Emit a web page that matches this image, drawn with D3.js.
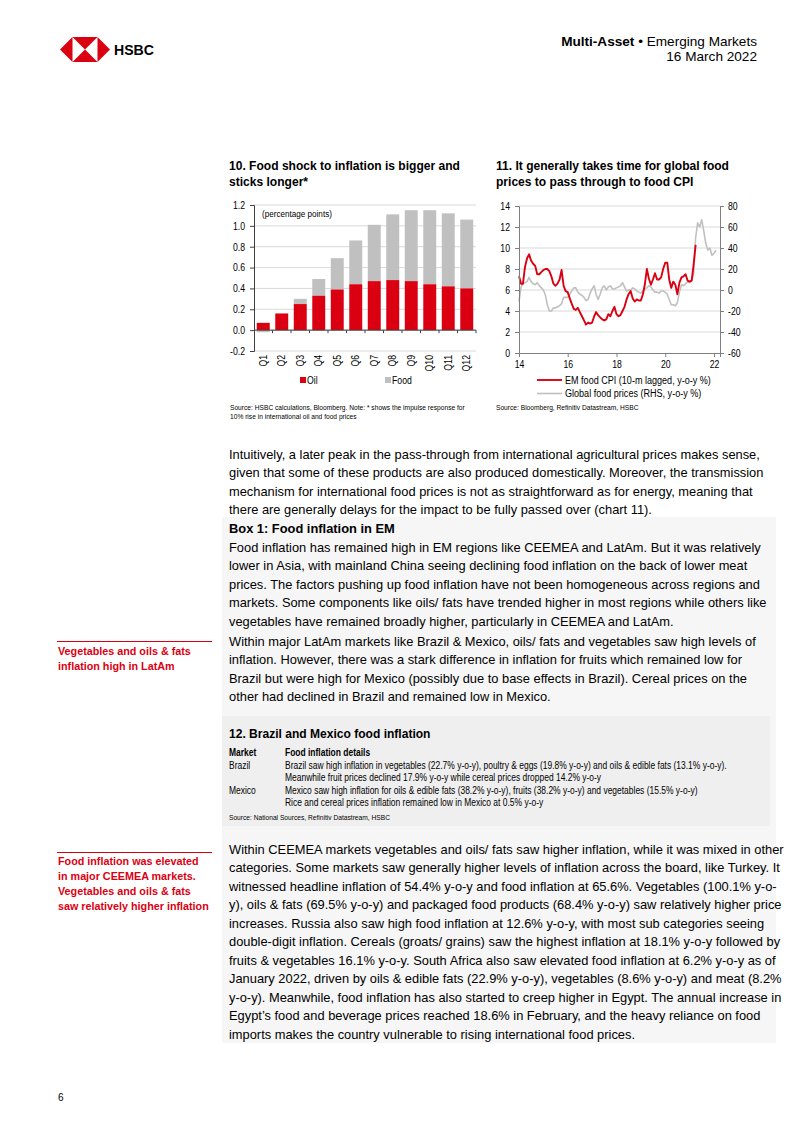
<!DOCTYPE html>
<html><head><meta charset="utf-8">
<script src="https://cdn.jsdelivr.net/npm/d3@7"></script>
<style>
body{margin:0;background:#fff}
svg{display:block}
text{font-family:"Liberation Sans",Arial,Helvetica,sans-serif;fill:#000}
</style>
</head><body>
<svg id="page" width="802" height="1133"></svg>
<script>
// ---------------- DATA ----------------
const quarters = ["Q1","Q2","Q3","Q4","Q5","Q6","Q7","Q8","Q9","Q10","Q11","Q12"];
const oilImpulse  = [0.07,0.16,0.25,0.33,0.39,0.44,0.47,0.48,0.47,0.44,0.42,0.40];
const foodImpulse = [-0.02,0.00,0.05,0.16,0.30,0.42,0.54,0.63,0.68,0.71,0.70,0.66];
const barTicks = [-0.2,0,0.2,0.4,0.6,0.8,1.0,1.2];

// monthly, starting Jan 2014
const seriesStart = new Date(2014,0,1);
const emFoodCpi = [
 7.3,6.6,6.6,8.2,9.0,9.4,8.8,8.5,8.3,7.5,7.5,7.7,
 7.9,8.0,8.0,7.8,7.3,6.6,6.4,6.6,7.0,7.9,6.4,5.9,
 5.8,5.2,4.7,4.2,4.1,4.3,3.9,3.5,3.1,2.7,2.9,2.8,
 2.9,3.5,3.9,3.6,3.4,3.2,3.1,3.2,3.7,3.5,4.0,4.4,
 3.7,3.5,3.6,4.0,4.4,5.1,5.6,5.9,5.2,4.9,5.1,5.0,
 5.0,5.6,6.5,8.0,7.1,6.5,7.0,7.6,7.0,7.0,7.2,8.0,
 8.6,8.6,7.0,6.2,6.8,6.5,5.6,6.7,7.2,7.3,7.5,6.9,
 6.8,6.9,8.4,10.3];
const globalFoodPrices = [
 -11,3,6,7,8,12,8,6,5,7,4,2,
 0,-5,-14,-20,-20,-17,-17,-16,-15,-13,-7,-7,
 -7,-4,-1,2,2,-2,-4,-5,-7,-10,-9,-3,
 1,4,-4,-9,-4,2,4,0,3,4,1,1,
 2,3,4,7,3,-1,0,0,2,1,-1,-2,
 -3,-1,1,2,4,3,0,-2,-2,-3,-1,-1,
 -2,-4,-9,-14,-14,-15,-12,-2,5,4,6,8,
 7,10,15,50,64,60,67,56,44,38,40,33,
 35,38];
const leftTicks = [0,2,4,6,8,10,12,14];
const rightTicks = [-60,-40,-20,0,20,40,60,80];
const yearTicks = [2014,2016,2018,2020,2022];

// ---------------- TEXT ----------------
const para1 = [
 "Intuitively, a later peak in the pass-through from international agricultural prices makes sense,",
 "given that some of these products are also produced domestically. Moreover, the transmission",
 "mechanism for international food prices is not as straightforward as for energy, meaning that",
 "there are generally delays for the impact to be fully passed over (chart 11)."];
const box1 = [
 "Food inflation has remained high in EM regions like CEEMEA and LatAm. But it was relatively",
 "lower in Asia, with mainland China seeing declining food inflation on the back of lower meat",
 "prices. The factors pushing up food inflation have not been homogeneous across regions and",
 "markets. Some components like oils/ fats have trended higher in most regions while others like",
 "vegetables have remained broadly higher, particularly in CEEMEA and LatAm."];
const para2 = [
 "Within major LatAm markets like Brazil & Mexico, oils/ fats and vegetables saw high levels of",
 "inflation. However, there was a stark difference in inflation for fruits which remained low for",
 "Brazil but were high for Mexico (possibly due to base effects in Brazil). Cereal prices on the",
 "other had declined in Brazil and remained low in Mexico."];
const tableRows = [
 ["Brazil","Brazil saw high inflation in vegetables (22.7% y-o-y), poultry & eggs (19.8% y-o-y) and oils & edible fats (13.1% y-o-y)."],
 ["","Meanwhile fruit prices declined 17.9% y-o-y while cereal prices dropped 14.2% y-o-y"],
 ["Mexico","Mexico saw high inflation for oils & edible fats (38.2% y-o-y), fruits (38.2% y-o-y) and vegetables (15.5% y-o-y)"],
 ["","Rice and cereal prices inflation remained low in Mexico at 0.5% y-o-y"]];
const para3 = [
 "Within CEEMEA markets vegetables and oils/ fats saw higher inflation, while it was mixed in other",
 "categories. Some markets saw generally higher levels of inflation across the board, like Turkey. It",
 "witnessed headline inflation of 54.4% y-o-y and food inflation at 65.6%. Vegetables (100.1% y-o-",
 "y), oils & fats (69.5% y-o-y) and packaged food products (68.4% y-o-y) saw relatively higher price",
 "increases. Russia also saw high food inflation at 12.6% y-o-y, with most sub categories seeing",
 "double-digit inflation. Cereals (groats/ grains) saw the highest inflation at 18.1% y-o-y followed by",
 "fruits & vegetables 16.1% y-o-y. South Africa also saw elevated food inflation at 6.2% y-o-y as of",
 "January 2022, driven by oils & edible fats (22.9% y-o-y), vegetables (8.6% y-o-y) and meat (8.2%",
 "y-o-y). Meanwhile, food inflation has also started to creep higher in Egypt. The annual increase in",
 "Egypt\u2019s food and beverage prices reached 18.6% in February, and the heavy reliance on food",
 "imports makes the country vulnerable to rising international food prices."];
const note1 = ["Vegetables and oils & fats","inflation high in LatAm"];
const note2 = ["Food inflation was elevated","in major CEEMEA markets.","Vegetables and oils & fats","saw relatively higher inflation"];

// ---------------- HELPERS ----------------
const RED = "#db0011", GREY = "#c0c0c0";
const NF = 0.82; // narrow-face emulation factor (horizontal squeeze)
const svg = d3.select("#page");
svg.append("rect").attr("width",802).attr("height",1133).attr("fill","#fff");

function measure(str, weight, size){
  const t = svg.append("text").attr("font-size",size||20).attr("font-weight",weight).text(str);
  const w = t.node().getComputedTextLength(); t.remove(); return w;
}
function fit(str, weight, target, narrow){
  return 20*target/(measure(str,weight,20)*(narrow?NF:1));
}
// squeeze text horizontally about its anchor point
function narrowize(sel){
  sel.each(function(){
    const el = d3.select(this);
    const x = +(el.attr("x")||0);
    const prev = el.attr("transform")||"";
    el.attr("transform",`${prev} translate(${x*(1-NF)},0) scale(${NF},1)`);
  });
  return sel;
}
function textLines(g, arr, x, y0, lh, size, weight, fill, narrow){
  arr.forEach((s,i)=>{
    const t = g.append("text").attr("x",x).attr("y",y0+i*lh)
      .attr("font-size",size).attr("font-weight",weight||"normal")
      .style("fill",fill||"#000").text(s);
    if (narrow) narrowize(t);
  });
}

// ---------------- HEADER ----------------
const logo = svg.append("g");
const lx=60, ly=37, lh=25, half=12.5;
const cx0 = lx+half, cx1 = lx+half+lh;
logo.append("polygon").attr("points",`${lx},${ly+half} ${cx0},${ly} ${cx0},${ly+lh}`).attr("fill",RED);
logo.append("polygon").attr("points",`${cx1+half},${ly+half} ${cx1},${ly} ${cx1},${ly+lh}`).attr("fill",RED);
logo.append("polygon").attr("points",`${cx0},${ly} ${cx1},${ly} ${(cx0+cx1)/2},${ly+half}`).attr("fill",RED);
logo.append("polygon").attr("points",`${cx0},${ly+lh} ${cx1},${ly+lh} ${(cx0+cx1)/2},${ly+half}`).attr("fill",RED);
svg.append("text").attr("x",114).attr("y",55).attr("font-size",fit("HSBC","bold",40)).attr("font-weight","bold").text("HSBC");

const hdrSize = fit("Multi-Asset \u2022 Emerging Markets","normal",190);
const h1 = svg.append("text").attr("x",757).attr("y",46).attr("text-anchor","end").attr("font-size",hdrSize);
h1.append("tspan").attr("font-weight","bold").text("Multi-Asset");
h1.append("tspan").text(" \u2022 Emerging Markets");
svg.append("text").attr("x",757).attr("y",61).attr("text-anchor","end").attr("font-size",hdrSize).text("16 March 2022");

// ---------------- CHART TITLES ----------------
const titleSize = fit("10. Food shock to inflation is bigger and","bold",231);
textLines(svg,["10. Food shock to inflation is bigger and","sticks longer*"],229,170,15.5,titleSize,"bold");
textLines(svg,["11. It generally takes time for global food","prices to pass through to food CPI"],496,170,15.5,titleSize,"bold");

const tickSize = 10.6;
const srcSize = fit("Source: HSBC calculations, Bloomberg.  Note: * shows the impulse response for","normal",235,true);

// ---------------- CHART 10 (stacked bars) ----------------
const c1 = svg.append("g");
const y1 = d3.scaleLinear().domain([-0.2,1.2]).range([351,205]);
const x1 = d3.scaleBand().domain(quarters).range([254,476]).paddingInner(0.3).paddingOuter(0.15);
c1.append("g").selectAll("line").data(barTicks).join("line")
  .attr("x1",254).attr("x2",476).attr("y1",d=>y1(d)).attr("y2",d=>y1(d))
  .attr("stroke","#d9d9d9").attr("stroke-width",1);
const rows = quarters.map((q,i)=>({q, oil:oilImpulse[i], food:foodImpulse[i]}));
const stack = d3.stack().keys(["oil","food"]).offset(d3.stackOffsetDiverging)(rows);
const colors = {oil:RED, food:GREY};
stack.slice().reverse().forEach(layer=>{
  c1.append("g").selectAll("rect").data(layer).join("rect")
    .attr("x",d=>x1(d.data.q)).attr("width",x1.bandwidth())
    .attr("y",d=>y1(Math.max(d[0],d[1]))).attr("height",d=>Math.abs(y1(d[0])-y1(d[1])))
    .attr("fill",colors[layer.key]);
});
function styleAxis(a, col){
  a.select(".domain").attr("stroke",col);
  a.selectAll(".tick line").attr("stroke",col);
  const t = a.selectAll("text").attr("font-size",tickSize).attr("font-family",null)
    .style("font-family",'"Liberation Sans", Arial, sans-serif').style("fill","#000")
    .text(function(){return this.textContent.replace("\u2212","-");});
  narrowize(t);
}
const fmt1 = d=>d3.format(".1f")(d).replace("\u2212","-");
styleAxis(c1.append("g").attr("transform","translate(254,0)")
  .call(d3.axisLeft(y1).tickValues(barTicks).tickFormat(fmt1).tickSize(4).tickPadding(5)),"#404040");
c1.append("line").attr("x1",254).attr("x2",476).attr("y1",y1(0)).attr("y2",y1(0)).attr("stroke","#404040");
c1.append("g").selectAll("line").data(quarters.slice(1).concat(["end"])).join("line")
  .attr("x1",d=>d==="end"?476:x1(d)-x1.step()*x1.paddingInner()/2)
  .attr("x2",d=>d==="end"?476:x1(d)-x1.step()*x1.paddingInner()/2)
  .attr("y1",y1(0)).attr("y2",y1(0)+3).attr("stroke","#404040");
narrowize(c1.append("g").selectAll("text").data(quarters).join("text")
  .attr("transform",d=>`translate(${x1(d)+x1.bandwidth()/2},355) rotate(-90)`)
  .attr("text-anchor","end").attr("dy","0.35em").attr("font-size",tickSize).text(d=>d));
narrowize(c1.append("text").attr("x",262).attr("y",217)
  .attr("font-size",fit("(percentage points)","normal",70,true)).text("(percentage points)"));
c1.append("rect").attr("x",300).attr("y",377).attr("width",6).attr("height",6).attr("fill",RED);
narrowize(c1.append("text").attr("x",307).attr("y",384).attr("font-size",tickSize).text("Oil"));
c1.append("rect").attr("x",385).attr("y",377).attr("width",6).attr("height",6).attr("fill",GREY);
narrowize(c1.append("text").attr("x",392).attr("y",384).attr("font-size",tickSize).text("Food"));
textLines(c1,["Source: HSBC calculations, Bloomberg.  Note: * shows the impulse response for","10% rise in international oil and food prices"],230,410,9.5,srcSize,"normal",null,true);

// ---------------- CHART 11 (dual-axis lines) ----------------
const c2 = svg.append("g");
const xt = d3.scaleTime().domain([new Date(2014,0,1), new Date(2022,3,1)]).range([519,720]);
const yL = d3.scaleLinear().domain([0,14]).range([353,206]);
const yR = d3.scaleLinear().domain([-60,80]).range([353,206]);
c2.append("g").selectAll("line").data(leftTicks.slice(1)).join("line")
  .attr("x1",519).attr("x2",720).attr("y1",d=>yL(d)).attr("y2",d=>yL(d))
  .attr("stroke","#d9d9d9");
const dateOf = i=>d3.timeMonth.offset(seriesStart,i);
c2.append("path").datum(globalFoodPrices)
  .attr("d",d3.line().x((d,i)=>xt(dateOf(i))).y(d=>yR(d)))
  .attr("fill","none").attr("stroke",GREY).attr("stroke-width",1.6).attr("stroke-linejoin","round");
c2.append("path").datum(emFoodCpi)
  .attr("d",d3.line().x((d,i)=>xt(dateOf(i))).y(d=>yL(d)))
  .attr("fill","none").attr("stroke",RED).attr("stroke-width",1.9).attr("stroke-linejoin","round");
styleAxis(c2.append("g").attr("transform","translate(519,0)")
  .call(d3.axisLeft(yL).tickValues(leftTicks).tickSize(4).tickPadding(5)),"#7f7f7f");
styleAxis(c2.append("g").attr("transform","translate(720,0)")
  .call(d3.axisRight(yR).tickValues(rightTicks).tickFormat(d=>String(d)).tickSize(4).tickPadding(4)),"#7f7f7f");
styleAxis(c2.append("g").attr("transform","translate(0,353)")
  .call(d3.axisBottom(xt).tickValues(yearTicks.map(y=>new Date(y,0,1))).tickFormat(d3.timeFormat("%y")).tickSize(4).tickPadding(3)),"#7f7f7f");
c2.append("line").attr("x1",537).attr("x2",562).attr("y1",380).attr("y2",380).attr("stroke",RED).attr("stroke-width",1.9);
c2.append("line").attr("x1",537).attr("x2",562).attr("y1",393.5).attr("y2",393.5).attr("stroke",GREY).attr("stroke-width",1.6);
const legSize = fit("EM food CPI (10-m lagged, y-o-y %)","normal",146,true);
narrowize(c2.append("text").attr("x",565).attr("y",384).attr("font-size",legSize).text("EM food CPI (10-m lagged, y-o-y %)"));
narrowize(c2.append("text").attr("x",565).attr("y",397.5).attr("font-size",legSize).text("Global food prices (RHS, y-o-y %)"));
narrowize(c2.append("text").attr("x",496).attr("y",410).attr("font-size",srcSize).text("Source: Bloomberg, Refinitiv Datastream, HSBC"));

// ---------------- BODY ----------------
const bodySize = fit(para1[0],"normal",531);
textLines(svg,para1,229,458.5,18.5,bodySize);
svg.append("rect").attr("x",222).attr("y",517).attr("width",554).attr("height",526).attr("fill","#f6f6f6");
svg.append("rect").attr("x",222).attr("y",716).attr("width",548).attr("height",110).attr("fill","#efefef");
textLines(svg,["Box 1: Food inflation in EM"],229,532.5,18.5,bodySize,"bold");
textLines(svg,box1,229,551.5,18.5,bodySize);
textLines(svg,para2,229,645.5,18.5,bodySize);
textLines(svg,["12. Brazil and Mexico food inflation"],229,738,18.5,titleSize,"bold");
const tblSize = fit(tableRows[0][1],"normal",442,true);
narrowize(svg.append("text").attr("x",229).attr("y",756).attr("font-size",tblSize).attr("font-weight","bold").text("Market"));
narrowize(svg.append("text").attr("x",285).attr("y",756).attr("font-size",tblSize).attr("font-weight","bold").text("Food inflation details"));
tableRows.forEach((r,i)=>{
  if (r[0]) narrowize(svg.append("text").attr("x",229).attr("y",769+i*12.3).attr("font-size",tblSize).text(r[0]));
  narrowize(svg.append("text").attr("x",285).attr("y",769+i*12.3).attr("font-size",tblSize).text(r[1]));
});
narrowize(svg.append("text").attr("x",229).attr("y",820).attr("font-size",srcSize).text("Source:  National Sources, Refinitiv Datastream, HSBC"));
textLines(svg,para3,229,853.5,18.5,bodySize);

// ---------------- SIDE NOTES ----------------
const noteSize = fit(note1[0],"bold",133);
svg.append("line").attr("x1",57).attr("x2",212).attr("y1",641.5).attr("y2",641.5).attr("stroke",RED);
textLines(svg,note1,58,655,15,noteSize,"bold",RED);
svg.append("line").attr("x1",57).attr("x2",212).attr("y1",852.5).attr("y2",852.5).attr("stroke",RED);
textLines(svg,note2,58,864.5,15.3,noteSize,"bold",RED);

svg.append("text").attr("x",58).attr("y",1101).attr("font-size",10).text("6");
</script>
</body></html>
